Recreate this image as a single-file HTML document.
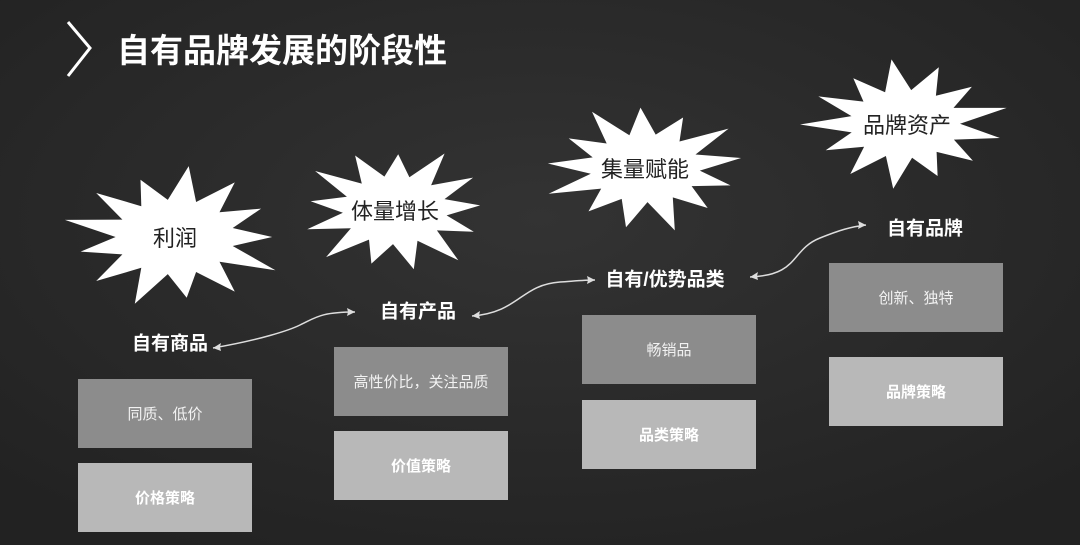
<!DOCTYPE html>
<html><head><meta charset="utf-8"><style>
html,body{margin:0;padding:0}
body{width:1080px;height:545px;overflow:hidden;background:#2b2b2b;position:relative;font-family:"Liberation Sans","Noto Sans CJK SC",sans-serif}
.t{position:absolute;color:#fff;font-weight:bold;white-space:nowrap;transform:translate(-50%,-50%)}
.b{position:absolute;width:174px;height:69px;display:flex;align-items:center;justify-content:center;font-size:15px}
.d{background:#8c8c8c;color:#f2f2f2}
.l{background:#b8b8b8;color:#fff;font-weight:bold}
svg{position:absolute;left:0;top:0}
</style></head><body>
<svg width="1080" height="545" id="s">
<defs><radialGradient id="g" cx="50%" cy="40%" r="70%"><stop offset="0" stop-color="#333"/><stop offset="1" stop-color="#222"/></radialGradient></defs>
<rect width="1080" height="545" fill="url(#g)"/>
<polyline points="68,22 90,48 68,76" fill="none" stroke="#fff" stroke-width="3"/>
<g fill="none" stroke="#ddd" stroke-width="1.5">
<path d="M213,348 C260,340 290,330 300,325 C315,318 320,312 355,312"/>
<path d="M472,316 C520,312 520,285 560,282 C575,281 585,280 595,280"/>
<path d="M750,277 C800,275 790,250 820,238 C840,230 850,227 866,225"/>
</g>
<g fill="#ddd">
<path d="M213,348 l8,-5 l-1,4 l1,4z"/><path d="M355,312 l-8,-4 l1,4 l-1,4z"/>
<path d="M472,316 l8,-5 l-1,4 l1,4z"/><path d="M595,280 l-8,-4 l1,4 l-1,4z"/>
<path d="M750,277 l8,-5 l-1,4 l1,4z"/><path d="M866,225 l-8,-4 l1,4 l-1,4z"/>
</g>
</svg>
<div class="t" style="left:282px;top:48px;font-size:33px">自有品牌发展的阶段性</div>
<div class="t" style="left:175px;top:237px;color:#222;font-weight:normal;font-size:22px;z-index:2">利润</div>
<div class="t" style="left:395px;top:210px;color:#222;font-weight:normal;font-size:22px;z-index:2">体量增长</div>
<div class="t" style="left:645px;top:168px;color:#222;font-weight:normal;font-size:22px;z-index:2">集量赋能</div>
<div class="t" style="left:907px;top:124px;color:#222;font-weight:normal;font-size:22px;z-index:2">品牌资产</div>
<div class="t" style="left:170px;top:342px;font-size:19px">自有商品</div>
<div class="t" style="left:418px;top:310px;font-size:19px">自有产品</div>
<div class="t" style="left:665px;top:278px;font-size:19px">自有/优势品类</div>
<div class="t" style="left:925px;top:227px;font-size:19px">自有品牌</div>
<div class="b d" style="left:78px;top:379px">同质、低价</div>
<div class="b l" style="left:78px;top:463px">价格策略</div>
<div class="b d" style="left:334px;top:347px">高性价比，关注品质</div>
<div class="b l" style="left:334px;top:431px">价值策略</div>
<div class="b d" style="left:582px;top:315px">畅销品</div>
<div class="b l" style="left:582px;top:400px">品类策略</div>
<div class="b d" style="left:829px;top:263px">创新、独特</div>
<div class="b l" style="left:829px;top:357px">品牌策略</div>
<script>
var s=document.getElementById('s');
[[175,237,108,68],[395,210,95,62],[645,168,100,62],[905,124,100,62]].forEach(function(c,k){
 var n=13,p=[];
 for(var i=0;i<2*n;i++){var a=i*Math.PI/n+k*0.4;var r=i%2?0.55:(0.9+0.15*((i*7)%3)/2);
  p.push((c[0]+Math.cos(a)*c[2]*r).toFixed(1)+','+(c[1]+Math.sin(a)*c[3]*r).toFixed(1));}
 var e=document.createElementNS('http://www.w3.org/2000/svg','polygon');
 e.setAttribute('points',p.join(' '));e.setAttribute('fill','#fff');s.appendChild(e);
});
</script>
</body></html>
